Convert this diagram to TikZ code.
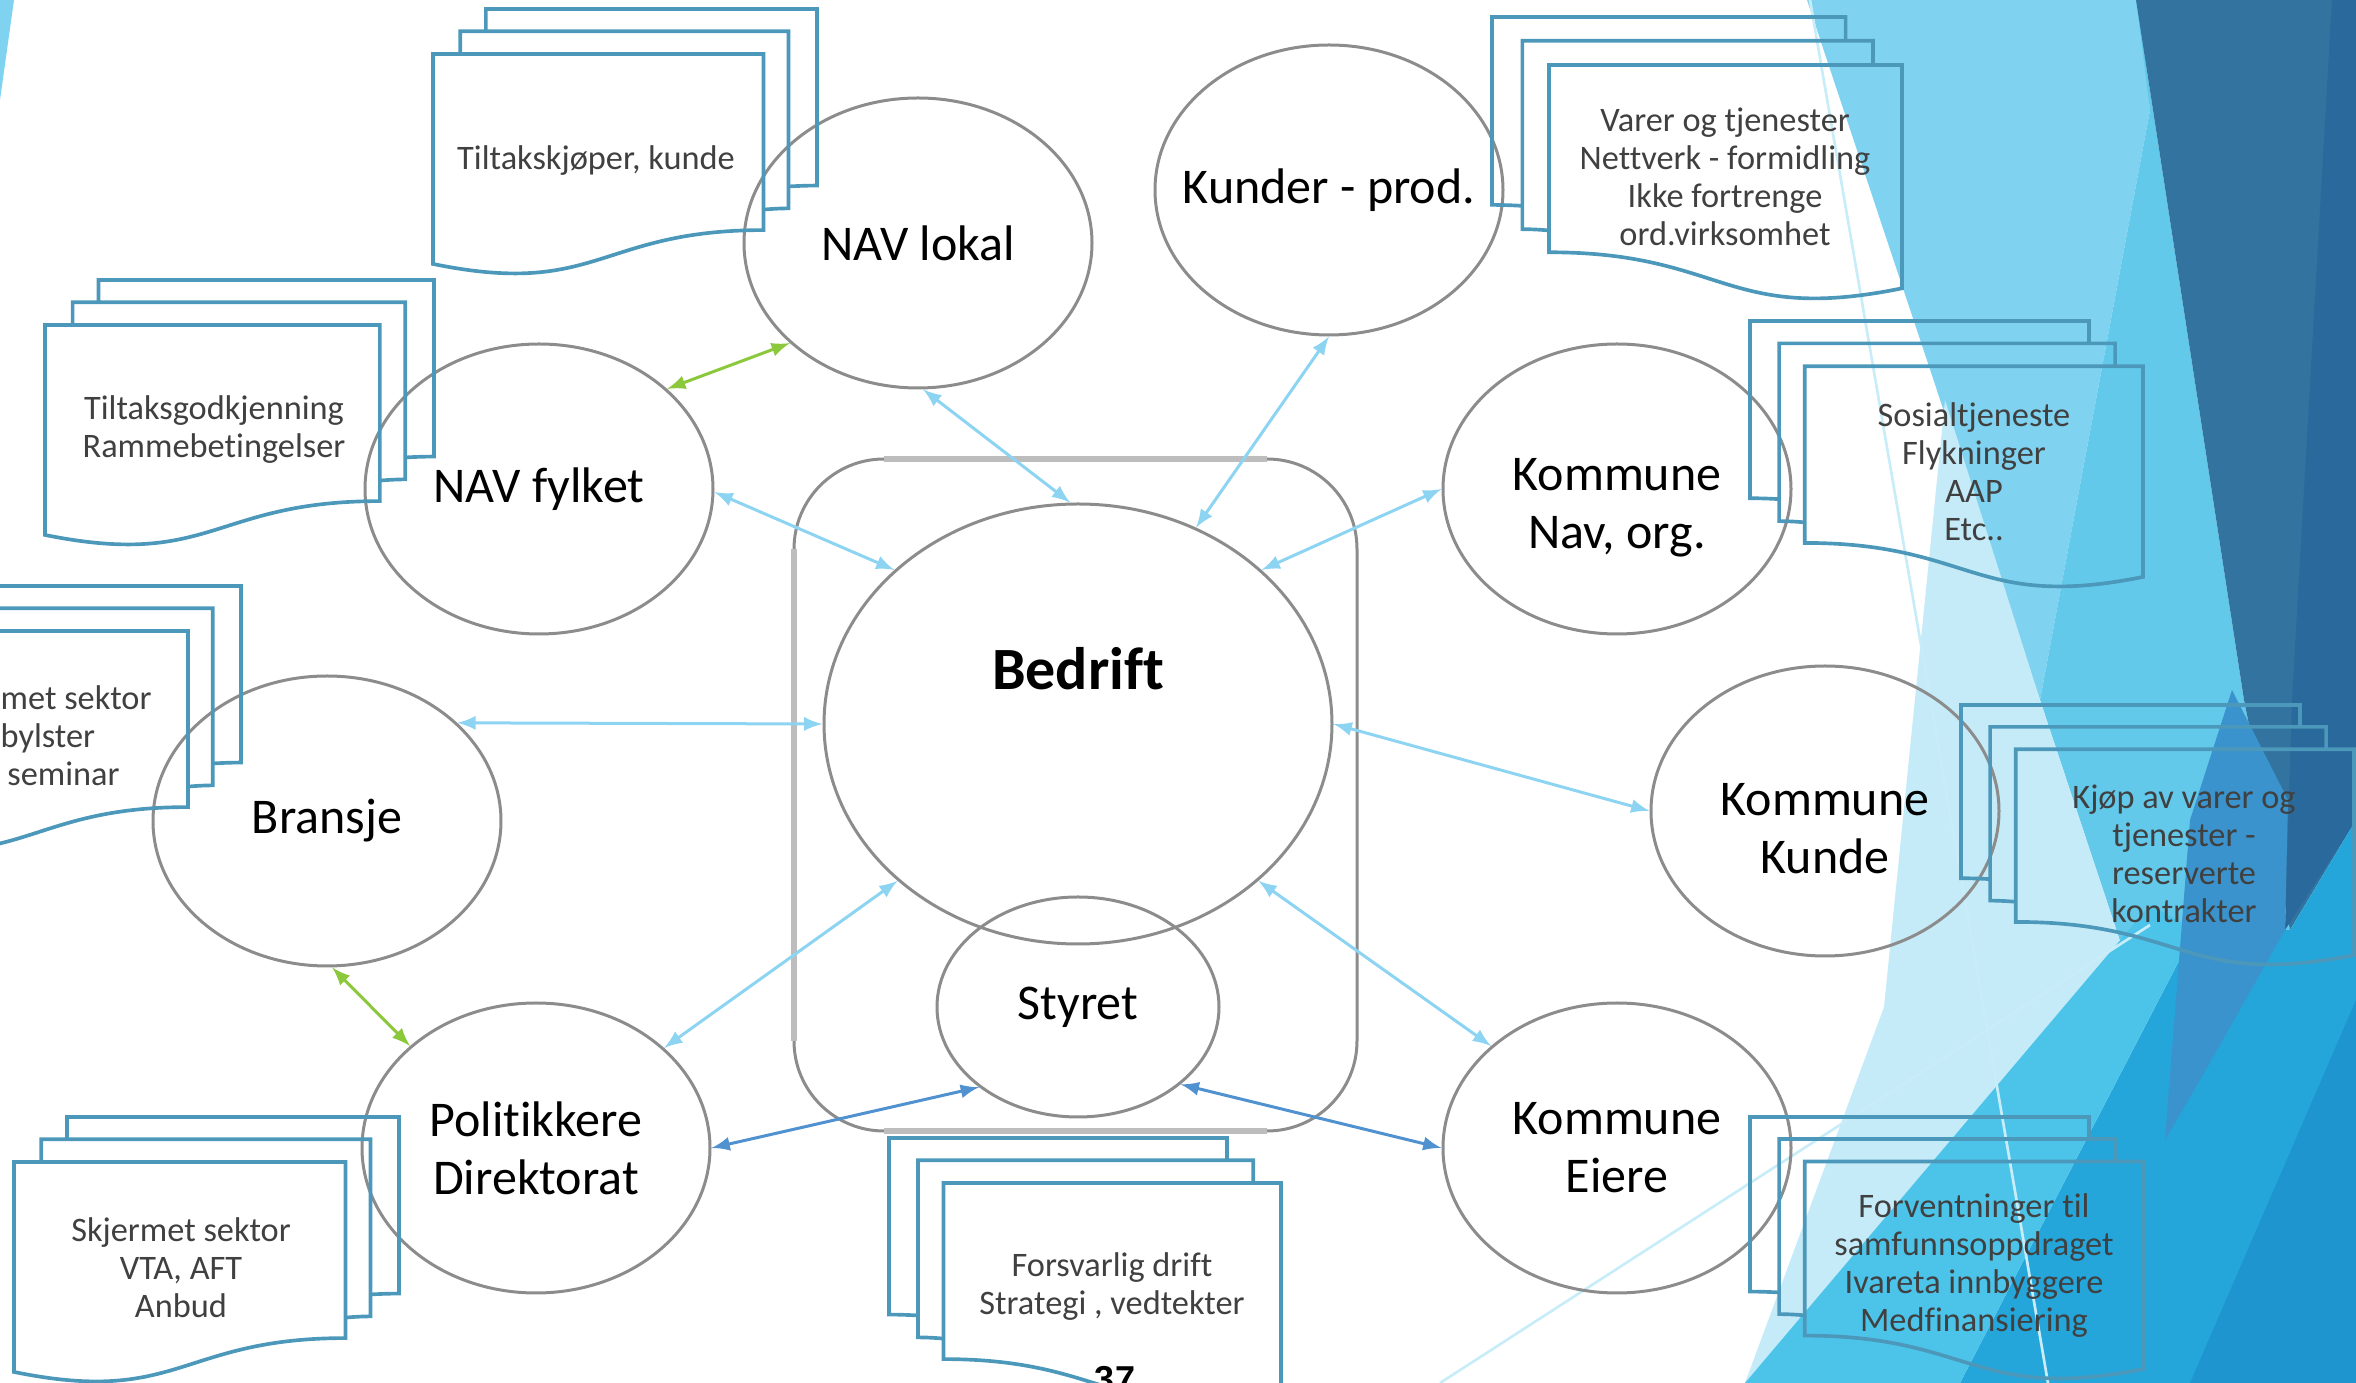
\documentclass[tikz,border=0pt]{standalone}
\usepackage{fontspec}
\setmainfont{Carlito}[Ligatures=NoCommon]
\newfontfamily\pagenofont{Liberation Sans}
\usepackage{tikz}
\usetikzlibrary{arrows, shapes.geometric, positioning}

\definecolor{entline}{RGB}{140,140,140}
\definecolor{frameline}{RGB}{189,189,189}
\definecolor{docline}{RGB}{76,152,186}
\definecolor{doctxt}{RGB}{64,64,64}
\definecolor{linkblue}{RGB}{140,212,242}
\definecolor{linkgreen}{RGB}{140,200,60}
\definecolor{linkdark}{RGB}{80,145,208}
\definecolor{bgpale}{RGB}{198,235,248}
\definecolor{bglight}{RGB}{128,211,240}
\definecolor{bgmid}{RGB}{99,201,235}
\definecolor{bgsteel}{RGB}{50,115,159}
\definecolor{bgdark}{RGB}{42,105,155}
\definecolor{bgband}{RGB}{58,147,204}
\definecolor{bgfan}{RGB}{76,196,234}
\definecolor{bgbright}{RGB}{36,166,219}
\definecolor{bgdeep}{RGB}{30,149,207}
\definecolor{bgthin}{RGB}{200,237,249}

% three stacked pages: #1,#2 top left (px), #3 width, #4 height, #5 = 1 or -1 (mirrored)
\newcommand{\docstack}[5]{%
  \pgfmathsetmacro{\stackw}{#5*#3*0.3/21.6}%
  \pgfmathsetmacro{\stackh}{-#4*0.3/21.6}%
  \pgfmathsetmacro{\stackx}{#1+(1-#5)/2*#3}%
  \begin{scope}[shift={(\stackx,#2)}, x=\stackw pt, y=\stackh pt]
    \draw[docpage] (0,20.782) .. controls (9.298,23.542) and (9.298,18.022) .. (18.595,18.022) -- (18.595,3.675) -- (0,3.675) -- cycle;
    \draw[docpage] (1.532,3.675) -- (1.532,1.815) -- (20,1.815) -- (20,16.252) .. controls (19.298,16.252) and (18.595,16.352) .. (18.595,16.352);
    \draw[docpage] (2.972,1.815) -- (2.972,0) -- (21.6,0) -- (21.6,14.392) .. controls (20.8,14.392) and (20,14.467) .. (20,14.467);
  \end{scope}}

\begin{document}
\begin{tikzpicture}[x=0.3pt, y=-0.3pt,
  ent/.style={ellipse, draw=entline, line width=0.9pt, minimum width=104.4pt, minimum height=87pt, inner sep=0pt, align=center, font=\fontsize{15}{17.4}\selectfont},
  lbl/.style={align=center, inner sep=0pt, font=\fontsize{15}{17.4}\selectfont},
  docpage/.style={draw=docline, line width=1.1pt},
  doctext/.style={align=center, inner sep=0pt, text=doctxt, font=\fontsize{10.3}{11.4}\selectfont},
  groupframe/.style={rectangle, draw=entline, line width=0.9pt, rounded corners=27pt, minimum width=168.9pt, minimum height=201.6pt, outer sep=0pt},
  framelight/.style={draw=frameline, line width=1.8pt},
  bluelink/.style={draw=linkblue, line width=0.9pt},
  greenlink/.style={draw=linkgreen, line width=0.9pt},
  darklink/.style={draw=linkdark, line width=0.9pt},
  bgline/.style={draw=bgthin, line width=0.8pt}]
  \useasboundingbox (0,0) rectangle (2356,1383);
  \clip (0,0) rectangle (2356,1383);

  % background facets
  \fill[bglight] (0,0) -- (14,0) -- (0,100) -- cycle;
  \fill[bglight] (1807,0) -- (2140,0) -- (2150,110) -- (2040,700) -- cycle;
  \fill[bgmid] (2136,0) -- (2244,700) -- (2290,930) -- (2123,950) -- (2040,700) -- (2150,110) -- cycle;
  \fill[bgpale] (1945,400) -- (2040,700) -- (2123,950) -- (1745,1383) -- (1884,1007) -- cycle;
  \fill[bgsteel] (2136,0) -- (2356,0) -- (2356,820) -- (2290,930) -- (2244,700) -- cycle;
  \fill[bgdark] (2332,0) -- (2356,0) -- (2356,820) -- (2285,930) -- (2292,700) -- cycle;
  \fill[bgbright] (1960,1383) -- (2195,930) -- (2290,930) -- (2356,820) -- (2356,1383) -- cycle;
  \fill[bgfan] (1745,1383) -- (2150,905) -- (2195,930) -- (1960,1383) -- cycle;
  \fill[bgband] (2232,690) -- (2288,800) -- (2285,930) -- (2200,1080) -- (2165,1140) -- (2190,820) -- cycle;
  \fill[bgdeep] (2356,1000) -- (2356,1383) -- (2190,1383) -- cycle;
  \draw[bgline] (1810,0) -- (2048,1383);
  \draw[bgline] (1440,1383) -- (2150,925);

  % the company frame
  \node[groupframe] (frame) at (1075.5,795) {};
  \draw[framelight] ([xshift=27pt]frame.north west) -- ([xshift=-27pt]frame.north east);
  \draw[framelight] ([yshift=-27pt]frame.north west) -- ([yshift=27pt]frame.south west);
  \draw[framelight] ([xshift=27pt]frame.south west) -- ([xshift=-27pt]frame.south east);

  \node[ent] (lokal) at (918,243) {NAV lokal};
  \node[ent, label={[lbl]center:Kunder - prod.}] (kunder) at (1329,190) {};
  \node[ent] (fylket) at (539,489) {NAV fylket};
  \node[ent, label={[lbl, yshift=-5.7pt]center:{Kommune\\Nav, org.}}] (navorg) at (1617,489) {};
  \node[ent] (bransje) at (327,821) {Bransje};
  \node[ent, label={[lbl, yshift=-5.4pt]center:{Kommune\\Kunde}}] (kkunde) at (1825,811) {};
  \node[ent] (polit) at (536,1148) {Politikkere\\Direktorat};
  \node[ent] (eiere) at (1617,1148) {Kommune\\Eiere};
  \node[ent, minimum width=152.4pt, minimum height=132pt, label={[lbl, font=\bfseries\fontsize{18}{21}\selectfont, yshift=16.5pt]center:Bedrift}] (bedrift) at (1078,724) {};
  \node[ent, minimum width=84.6pt, minimum height=66pt] (styret) [below=-15pt of bedrift] {Styret};

  % page stacks
  \docstack{433}{9}{384}{265}{1}
  \docstack{45}{280}{389}{265}{1}
  \docstack{-140}{586}{381}{265}{1}
  \docstack{14}{1117}{385}{265}{1}
  \docstack{889}{1138}{392}{265}{-1}
  \docstack{1492}{17}{410}{282}{-1}
  \docstack{1750}{321}{393}{266}{-1}
  \docstack{1961}{705}{393}{260}{-1}
  \docstack{1750}{1117}{393}{262}{-1}

  \node[doctext] (tkunde) at (596,161) {Tiltakskjøper, kunde};
  \node[doctext] (tgodkj) at (214,430) {Tiltaksgodkjenning\\Rammebetingelser};
  \node[doctext, anchor=west, align=left] (sektor) at (0,736) {met sektor\\bylster\\\hspace*{2pt}seminar};
  \node[doctext] (skjermet) at (181,1268) {Skjermet sektor\\VTA, AFT\\Anbud};
  \node[doctext] (drift) at (1112,1287) {Forsvarlig drift\\Strategi , vedtekter};
  \node[doctext] (varer) at (1725,177) {Varer og tjenester\\Nettverk - formidling\\Ikke fortrenge\\ord.virksomhet};
  \node[doctext] (sosial) at (1974,472) {Sosialtjeneste\\Flykninger\\AAP\\Etc..};
  \node[doctext] (kjop) at (2184,854) {Kjøp av varer og\\tjenester -\\reserverte\\kontrakter};
  \node[doctext] (forvent) at (1974,1266) {Forventninger til\\samfunnsoppdraget\\Ivareta innbyggere\\Medfinansiering};
  \node[font=\pagenofont\bfseries\fontsize{10.8}{13}\selectfont, anchor=north, inner sep=0pt] (pageno) at (1115,1366) {37};

  % links
  \path[latex-latex] (fylket.38) edge [greenlink] (lokal.-142);
  \path[latex-latex] (bransje.-88) edge [greenlink] (polit.141);
  \path[latex-latex] (lokal.-88) edge [bluelink] (bedrift.92);
  \path[latex-latex] (fylket.-1) edge [bluelink] (bedrift.140);
  \path[latex-latex] (kunder.-90) edge [bluelink] (bedrift.59);
  \path[latex-latex] (navorg.180) edge [bluelink] (bedrift.40);
  \path[latex-latex] (bransje.37) edge [bluelink] (bedrift.180);
  \path[latex-latex] (polit.38) edge [bluelink] (bedrift.-139);
  \path[latex-latex] (kkunde.180) edge [bluelink] (bedrift.0);
  \path[latex-latex] (eiere.141) edge [bluelink] (bedrift.-41);
  \path[latex-latex] (polit.0) edge [darklink] (styret.-141);
  \path[latex-latex] (eiere.180) edge [darklink] (styret.-37);
\end{tikzpicture}
\end{document}
